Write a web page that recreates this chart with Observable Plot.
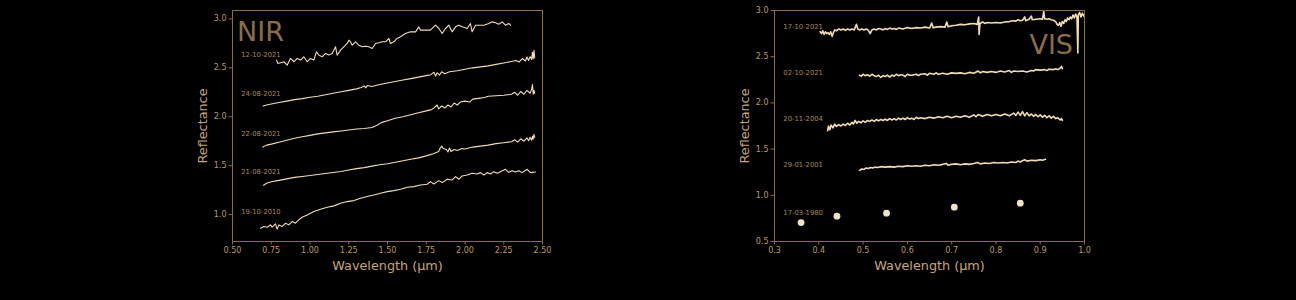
<!DOCTYPE html>
<html><head><meta charset="utf-8">
<script src="https://cdn.jsdelivr.net/npm/d3@7"></script>
<script src="https://cdn.jsdelivr.net/npm/@observablehq/plot@0.6"></script>
<style>
html,body{margin:0;padding:0;background:#000;}
#wrap{position:relative;width:1296px;height:300px;background:#000;overflow:hidden;}
#left{position:absolute;left:0;top:0;}
#right{position:absolute;left:560px;top:0;}
</style></head>
<body><div id="wrap"><div id="left"></div><div id="right"></div></div>
<script>
// ---------- NIR spectra: [wavelength µm, reflectance] ----------
const nir_12_10_2021 = [[0.784,2.579],[0.792,2.545],[0.831,2.562],[0.853,2.528],[0.874,2.596],[0.896,2.562],[0.917,2.596],[0.939,2.579],[0.960,2.613],[0.982,2.562],[1.003,2.596],[1.025,2.579],[1.042,2.664],[1.057,2.630],[1.078,2.613],[1.100,2.647],[1.122,2.630],[1.143,2.647],[1.165,2.715],[1.175,2.630],[1.197,2.681],[1.218,2.715],[1.240,2.749],[1.251,2.783],[1.261,2.766],[1.272,2.732],[1.294,2.766],[1.315,2.732],[1.337,2.715],[1.358,2.721],[1.380,2.715],[1.401,2.698],[1.423,2.749],[1.444,2.756],[1.466,2.766],[1.487,2.766],[1.509,2.800],[1.519,2.749],[1.541,2.766],[1.562,2.800],[1.584,2.817],[1.616,2.851],[1.648,2.868],[1.681,2.868],[1.702,2.919],[1.713,2.885],[1.734,2.885],[1.777,2.885],[1.810,2.936],[1.831,2.902],[1.853,2.851],[1.874,2.902],[1.896,2.936],[1.917,2.868],[1.939,2.919],[1.960,2.936],[1.982,2.919],[2.014,2.902],[2.035,2.953],[2.046,2.868],[2.068,2.936],[2.089,2.936],[2.122,2.936],[2.154,2.953],[2.175,2.970],[2.197,2.960],[2.218,2.946],[2.240,2.970],[2.261,2.936],[2.283,2.953],[2.294,2.936]];
const nir_24_08_2021 = [[0.698,2.109],[0.72,2.12],[0.75,2.13],[0.80,2.145],[0.85,2.16],[0.90,2.175],[0.95,2.185],[1.00,2.20],[1.05,2.21],[1.10,2.225],[1.15,2.24],[1.20,2.255],[1.25,2.27],[1.30,2.285],[1.33,2.30],[1.35,2.315],[1.36,2.295],[1.37,2.32],[1.40,2.31],[1.45,2.33],[1.50,2.345],[1.55,2.36],[1.60,2.375],[1.65,2.39],[1.70,2.405],[1.75,2.42],[1.78,2.43],[1.80,2.455],[1.81,2.415],[1.82,2.45],[1.835,2.425],[1.85,2.46],[1.87,2.44],[1.90,2.46],[1.95,2.47],[2.00,2.485],[2.05,2.50],[2.10,2.51],[2.15,2.52],[2.20,2.535],[2.25,2.55],[2.30,2.565],[2.33,2.575],[2.35,2.56],[2.37,2.595],[2.39,2.57],[2.40,2.61],[2.41,2.575],[2.42,2.615],[2.43,2.585],[2.435,2.66],[2.44,2.59],[2.445,2.68],[2.45,2.60]];
const nir_22_08_2021 = [[0.695,1.69],[0.72,1.71],[0.75,1.72],[0.80,1.74],[0.85,1.76],[0.90,1.78],[0.95,1.795],[1.00,1.81],[1.05,1.825],[1.10,1.835],[1.15,1.845],[1.20,1.855],[1.25,1.865],[1.30,1.875],[1.35,1.88],[1.40,1.89],[1.43,1.91],[1.46,1.94],[1.50,1.96],[1.55,1.985],[1.60,2.00],[1.65,2.02],[1.70,2.04],[1.75,2.06],[1.78,2.07],[1.80,2.09],[1.82,2.12],[1.83,2.08],[1.85,2.11],[1.87,2.09],[1.89,2.12],[1.91,2.10],[1.93,2.14],[1.95,2.12],[1.97,2.15],[2.00,2.16],[2.03,2.15],[2.05,2.18],[2.10,2.19],[2.13,2.20],[2.15,2.21],[2.20,2.215],[2.25,2.22],[2.30,2.23],[2.32,2.25],[2.34,2.22],[2.36,2.26],[2.38,2.23],[2.40,2.27],[2.42,2.24],[2.43,2.28],[2.435,2.33],[2.44,2.23],[2.445,2.27],[2.45,2.24]];
const nir_21_08_2021 = [[0.70,1.30],[0.72,1.32],[0.75,1.335],[0.80,1.35],[0.85,1.365],[0.90,1.38],[0.95,1.39],[1.00,1.40],[1.05,1.41],[1.10,1.42],[1.15,1.43],[1.20,1.44],[1.25,1.455],[1.30,1.47],[1.35,1.48],[1.40,1.495],[1.45,1.51],[1.50,1.52],[1.55,1.535],[1.60,1.55],[1.65,1.565],[1.70,1.58],[1.75,1.60],[1.80,1.625],[1.83,1.645],[1.84,1.68],[1.85,1.70],[1.86,1.675],[1.88,1.665],[1.89,1.64],[1.90,1.68],[1.91,1.645],[1.93,1.665],[1.95,1.655],[1.98,1.675],[2.00,1.67],[2.05,1.69],[2.10,1.70],[2.15,1.71],[2.20,1.725],[2.25,1.735],[2.30,1.745],[2.32,1.765],[2.34,1.74],[2.36,1.775],[2.38,1.75],[2.40,1.785],[2.41,1.755],[2.42,1.79],[2.43,1.76],[2.435,1.80],[2.44,1.77],[2.445,1.82],[2.45,1.79]];
const nir_19_10_2010 = [[0.681,0.861],[0.702,0.878],[0.724,0.871],[0.745,0.895],[0.756,0.871],[0.777,0.905],[0.788,0.851],[0.799,0.895],[0.820,0.878],[0.842,0.912],[0.863,0.895],[0.885,0.929],[0.906,0.912],[0.928,0.946],[0.949,0.973],[0.982,0.997],[1.025,1.031],[1.068,1.055],[1.111,1.075],[1.154,1.089],[1.197,1.116],[1.240,1.133],[1.283,1.143],[1.326,1.167],[1.369,1.184],[1.412,1.201],[1.455,1.218],[1.498,1.235],[1.541,1.245],[1.584,1.259],[1.627,1.279],[1.670,1.286],[1.713,1.303],[1.756,1.310],[1.777,1.337],[1.799,1.313],[1.831,1.347],[1.853,1.327],[1.885,1.361],[1.917,1.354],[1.939,1.388],[1.960,1.361],[1.982,1.395],[2.014,1.405],[2.046,1.422],[2.078,1.415],[2.100,1.429],[2.122,1.405],[2.143,1.429],[2.165,1.415],[2.186,1.439],[2.208,1.422],[2.229,1.439],[2.261,1.463],[2.283,1.432],[2.304,1.449],[2.326,1.436],[2.347,1.449],[2.369,1.429],[2.401,1.463],[2.423,1.429],[2.455,1.436]];
const nirDates = ["12-10-2021","24-08-2021","22-08-2021","21-08-2021","19-10-2010"];
const nirLabelY = [2.63, 2.23, 1.83, 1.44, 1.03];

// ---------- VIS spectra ----------
const vis_17_10_2021 = [[0.403,2.77],[0.406,2.75],[0.409,2.78],[0.412,2.74],[0.415,2.77],[0.418,2.75],[0.421,2.76],[0.424,2.74],[0.427,2.77],[0.430,2.72],[0.433,2.76],[0.436,2.79],[0.440,2.78],[0.445,2.80],[0.450,2.79],[0.455,2.80],[0.460,2.785],[0.465,2.80],[0.470,2.79],[0.475,2.80],[0.480,2.79],[0.485,2.85],[0.488,2.80],[0.492,2.79],[0.497,2.80],[0.502,2.79],[0.507,2.80],[0.512,2.785],[0.516,2.75],[0.520,2.79],[0.525,2.80],[0.530,2.79],[0.535,2.805],[0.540,2.80],[0.545,2.79],[0.550,2.805],[0.555,2.795],[0.560,2.81],[0.565,2.80],[0.570,2.805],[0.575,2.795],[0.580,2.81],[0.590,2.80],[0.600,2.815],[0.610,2.805],[0.620,2.815],[0.630,2.81],[0.640,2.82],[0.650,2.81],[0.655,2.865],[0.658,2.815],[0.665,2.82],[0.675,2.825],[0.685,2.82],[0.689,2.875],[0.692,2.825],[0.700,2.835],[0.710,2.84],[0.720,2.85],[0.730,2.845],[0.740,2.855],[0.750,2.86],[0.758,2.85],[0.761,2.93],[0.762,2.74],[0.764,2.86],[0.770,2.875],[0.775,2.86],[0.780,2.87],[0.790,2.865],[0.800,2.87],[0.810,2.865],[0.820,2.875],[0.830,2.88],[0.840,2.89],[0.845,2.885],[0.850,2.90],[0.855,2.89],[0.860,2.895],[0.865,2.93],[0.867,2.89],[0.875,2.905],[0.880,2.94],[0.882,2.90],[0.890,2.905],[0.900,2.91],[0.905,2.905],[0.908,2.99],[0.910,2.91],[0.915,2.905],[0.920,2.91],[0.925,2.90],[0.930,2.895],[0.935,2.88],[0.938,2.85],[0.941,2.84],[0.944,2.87],[0.947,2.83],[0.950,2.88],[0.953,2.86],[0.956,2.90],[0.959,2.88],[0.962,2.92],[0.965,2.90],[0.968,2.93],[0.971,2.91],[0.974,2.95],[0.977,2.92],[0.980,2.96],[0.983,2.93],[0.985,2.54],[0.986,2.95],[0.989,2.98],[0.992,2.93],[0.995,2.97],[0.998,2.94],[1.0,2.96]];
const vis_02_10_2021 = [[0.492,2.30],[0.496,2.29],[0.500,2.31],[0.505,2.295],[0.510,2.305],[0.515,2.29],[0.520,2.31],[0.525,2.295],[0.530,2.285],[0.535,2.30],[0.540,2.275],[0.545,2.295],[0.550,2.285],[0.555,2.30],[0.560,2.28],[0.565,2.30],[0.570,2.29],[0.575,2.31],[0.580,2.295],[0.585,2.305],[0.590,2.30],[0.595,2.285],[0.600,2.31],[0.605,2.30],[0.610,2.30],[0.620,2.31],[0.625,2.295],[0.630,2.31],[0.640,2.315],[0.645,2.30],[0.650,2.32],[0.660,2.31],[0.665,2.325],[0.670,2.31],[0.680,2.32],[0.690,2.31],[0.700,2.325],[0.710,2.32],[0.720,2.325],[0.730,2.315],[0.740,2.33],[0.750,2.32],[0.760,2.345],[0.765,2.325],[0.770,2.34],[0.780,2.33],[0.790,2.34],[0.800,2.33],[0.810,2.345],[0.820,2.335],[0.830,2.35],[0.835,2.33],[0.840,2.345],[0.850,2.34],[0.860,2.345],[0.870,2.335],[0.880,2.35],[0.885,2.345],[0.890,2.36],[0.900,2.355],[0.910,2.36],[0.915,2.35],[0.920,2.365],[0.930,2.36],[0.935,2.37],[0.940,2.36],[0.945,2.375],[0.948,2.395],[0.950,2.37]];
const vis_20_11_2004 = [[0.420,1.70],[0.422,1.75],[0.425,1.71],[0.428,1.76],[0.432,1.73],[0.436,1.77],[0.440,1.745],[0.445,1.765],[0.450,1.75],[0.455,1.77],[0.460,1.755],[0.465,1.78],[0.470,1.76],[0.475,1.79],[0.478,1.77],[0.482,1.81],[0.486,1.78],[0.490,1.80],[0.495,1.785],[0.500,1.805],[0.505,1.79],[0.510,1.81],[0.515,1.80],[0.520,1.815],[0.525,1.80],[0.530,1.82],[0.535,1.805],[0.540,1.82],[0.545,1.81],[0.550,1.825],[0.555,1.81],[0.560,1.83],[0.565,1.815],[0.570,1.83],[0.575,1.815],[0.580,1.835],[0.585,1.82],[0.590,1.835],[0.595,1.82],[0.600,1.84],[0.605,1.825],[0.610,1.835],[0.615,1.82],[0.620,1.845],[0.625,1.83],[0.630,1.84],[0.640,1.83],[0.650,1.845],[0.660,1.835],[0.670,1.85],[0.680,1.84],[0.690,1.855],[0.700,1.84],[0.710,1.855],[0.720,1.845],[0.730,1.86],[0.740,1.845],[0.750,1.87],[0.755,1.85],[0.760,1.875],[0.770,1.855],[0.780,1.875],[0.790,1.86],[0.800,1.875],[0.810,1.86],[0.820,1.88],[0.830,1.86],[0.840,1.89],[0.845,1.865],[0.850,1.90],[0.855,1.865],[0.860,1.905],[0.865,1.86],[0.870,1.895],[0.875,1.86],[0.880,1.88],[0.885,1.855],[0.890,1.875],[0.895,1.85],[0.900,1.87],[0.905,1.845],[0.910,1.865],[0.915,1.84],[0.920,1.86],[0.925,1.835],[0.930,1.855],[0.935,1.83],[0.940,1.84],[0.945,1.815],[0.948,1.83],[0.950,1.81]];
const vis_29_01_2001 = [[0.492,1.27],[0.497,1.285],[0.502,1.28],[0.507,1.295],[0.512,1.29],[0.517,1.30],[0.522,1.295],[0.527,1.305],[0.532,1.30],[0.540,1.31],[0.550,1.305],[0.560,1.31],[0.570,1.305],[0.580,1.315],[0.590,1.31],[0.600,1.32],[0.610,1.315],[0.620,1.32],[0.630,1.315],[0.640,1.325],[0.650,1.32],[0.660,1.33],[0.670,1.325],[0.680,1.335],[0.688,1.345],[0.692,1.325],[0.700,1.335],[0.710,1.34],[0.720,1.33],[0.730,1.34],[0.740,1.335],[0.750,1.345],[0.758,1.355],[0.765,1.34],[0.775,1.35],[0.785,1.345],[0.795,1.355],[0.805,1.35],[0.815,1.355],[0.825,1.35],[0.835,1.36],[0.845,1.355],[0.850,1.37],[0.855,1.36],[0.860,1.375],[0.865,1.385],[0.870,1.37],[0.880,1.38],[0.890,1.375],[0.900,1.385],[0.905,1.38],[0.912,1.39]];
const vis_17_03_1980_wave = [0.360, 0.441, 0.553, 0.706, 0.855];
const vis_17_03_1980_refl = [0.705, 0.774, 0.807, 0.872, 0.915];
const visDates = ["17-10-2021","02-10-2021","20-11-2004","29-01-2001","17-03-1980"];
const visLabelY = [2.823, 2.326, 1.829, 1.329, 0.807];

// ticks
const nirXTicks = [0.5,0.75,1.0,1.25,1.5,1.75,2.0,2.25,2.5];
const nirYTicks = [1.0,1.5,2.0,2.5,3.0];
const visXTicks = [0.3,0.4,0.5,0.6,0.7,0.8,0.9,1.0];
const visYTicks = [0.5,1.0,1.5,2.0,2.5,3.0];

// ---------- styling ----------
const FONT = "'DejaVu Sans', sans-serif";
const FRAME = "#8b6d3f";
const TICK = "#bf9a5e";
const AXLAB = "#c9a671";
const DATE = "#a8864f";
const BIG = "#8b6d45";
const LINE = "#f3dcb0";
const DOT = "#f3e2c4";

function toRows(series, names) {
  const rows = [];
  series.forEach((s, i) => s.forEach(([w, r]) => rows.push({w, r, s: names[i]})));
  return rows;
}

function panel({width, marginLeft, marginRight, xDomain, yDomain, xTicks, yTicks, xFmt, lineRows, lineWidth, dateLabels, dateX, bigText, bigOpts, extra}) {
  return Plot.plot({
    width, height: 300, marginLeft, marginRight, marginTop: 10, marginBottom: 59,
    style: {background: "black", fontFamily: FONT, color: TICK, overflow: "visible"},
    x: {domain: xDomain},
    y: {domain: yDomain},
    marks: [
      Plot.line(lineRows, {x: "w", y: "r", z: "s", stroke: LINE, strokeWidth: lineWidth, clip: true}),
      ...(extra || []),
      Plot.text(dateLabels, {x: () => dateX, y: "y", text: "t", textAnchor: "start", fontSize: 6.8, fill: DATE}),
      Plot.text([bigText], {text: d => d, frameAnchor: bigOpts.anchor, textAnchor: bigOpts.textAnchor, lineAnchor: "top", dx: bigOpts.dx, dy: bigOpts.dy, fontSize: 27, fill: BIG}),
      Plot.frame({stroke: FRAME, strokeWidth: 1}),
      Plot.axisX({ticks: xTicks, tickFormat: xFmt, tickSize: 3.5, tickPadding: 2.5, stroke: FRAME, fill: TICK, fontSize: 8, label: null}),
      Plot.axisY({ticks: yTicks, tickFormat: d3.format(".1f"), tickSize: 3.5, tickPadding: 2.5, stroke: FRAME, fill: TICK, fontSize: 8, label: null}),
      Plot.text(["Wavelength (µm)"], {text: d => d, frameAnchor: "bottom", textAnchor: "middle", lineAnchor: "bottom", dy: 28, fontSize: 12.8, fill: AXLAB}),
      Plot.text(["Reflectance"], {text: d => d, frameAnchor: "left", textAnchor: "middle", lineAnchor: "middle", rotate: -90, dx: -30, fontSize: 12.8, fill: AXLAB})
    ]
  });
}

const nirRows = toRows([nir_12_10_2021, nir_24_08_2021, nir_22_08_2021, nir_21_08_2021, nir_19_10_2010], nirDates);
const nirLabels = nirDates.map((t, i) => ({t, y: nirLabelY[i]}));
document.getElementById("left").appendChild(panel({
  width: 560, marginLeft: 232, marginRight: 18,
  xDomain: [0.5, 2.5], yDomain: [0.725, 3.086],
  xTicks: nirXTicks, yTicks: nirYTicks, xFmt: d3.format(".2f"),
  lineRows: nirRows, lineWidth: 1.1, dateLabels: nirLabels, dateX: 0.556,
  bigText: "NIR", bigOpts: {anchor: "top-left", textAnchor: "start", dx: 4.5, dy: 11.5}
}));

const visRows = toRows([vis_17_10_2021, vis_02_10_2021, vis_20_11_2004, vis_29_01_2001], visDates.slice(0, 4));
const visLabels = visDates.map((t, i) => ({t, y: visLabelY[i]}));
const visDots = vis_17_03_1980_wave.map((w, i) => ({w, r: vis_17_03_1980_refl[i]}));
document.getElementById("right").appendChild(panel({
  width: 736, marginLeft: 214, marginRight: 212,
  xDomain: [0.3, 1.0], yDomain: [0.5, 3.0],
  xTicks: visXTicks, yTicks: visYTicks, xFmt: d3.format(".1f"),
  lineRows: visRows, lineWidth: 1.6, dateLabels: visLabels, dateX: 0.32,
  bigText: "VIS", bigOpts: {anchor: "top-right", textAnchor: "end", dx: -11.5, dy: 24.5},
  extra: [Plot.dot(visDots, {x: "w", y: "r", r: 3.4, fill: DOT, stroke: "none"})]
}));
</script>
</body></html>
